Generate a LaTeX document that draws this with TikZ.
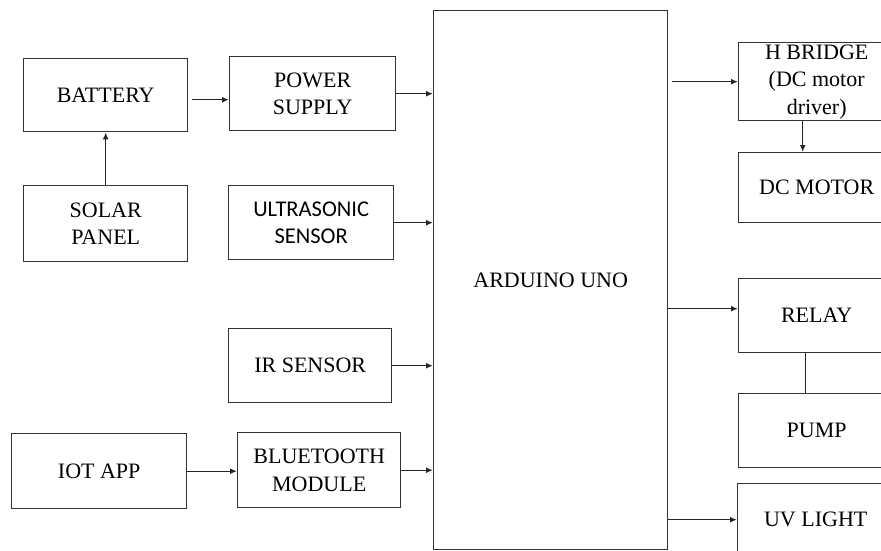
\documentclass[tikz,border=0pt]{standalone}
\usepackage{fontspec}
\setmainfont{Liberation Serif}
\newfontfamily\calibri{Carlito}
\usetikzlibrary{arrows.meta}
\begin{document}
\begin{tikzpicture}[x=1pt, y=-1pt,
    blocco/.style={draw=black!80, line width=1.4pt, inner sep=0pt, anchor=north west,
      align=center, font=\fontsize{22}{27.5}\selectfont},
    freccia/.style={draw=black!85, line width=1.4pt, -{Latex[length=7pt,width=6pt]}},
    linea/.style={draw=black!85, line width=1.4pt}]
    \useasboundingbox (0,0) rectangle (881,551);
    % Blocchi di ingresso
    \node[blocco, minimum width=164pt, minimum height=73pt] (bat) at (23,58) {BATTERY};
    \node[blocco, minimum width=166pt, minimum height=74pt] (pwr) at (229,56) {POWER\\SUPPLY};
    \node[blocco, minimum width=164pt, minimum height=76pt] (sol) at (23,185) {SOLAR\\PANEL};
    \node[blocco, minimum width=165pt, minimum height=74pt, font=\calibri\fontsize{22.5}{27}\selectfont] (ult) at (228,185) {ULTRASONIC\\SENSOR};
    \node[blocco, minimum width=163pt, minimum height=74pt] (ir) at (228,328) {IR SENSOR};
    \node[blocco, minimum width=175pt, minimum height=75pt] (iot) at (11,433) {IOT APP};
    \node[blocco, minimum width=163pt, minimum height=75pt] (bt) at (237,432) {BLUETOOTH\\MODULE};
    % Microcontrollore
    \node[blocco, minimum width=234pt, minimum height=539pt] (ard) at (433,10) {ARDUINO UNO};
    % Blocchi di uscita
    \node[blocco, minimum width=156pt, minimum height=78pt] (hb) at (738,42) {H BRIDGE\\(DC motor\\driver)};
    \node[blocco, minimum width=156pt, minimum height=70pt] (dcm) at (738,152) {DC MOTOR};
    \node[blocco, minimum width=156pt, minimum height=74pt] (rly) at (738,278) {RELAY};
    \node[blocco, minimum width=156pt, minimum height=74pt] (pmp) at (738,393) {PUMP};
    \node[blocco, minimum width=156pt, minimum height=72pt] (uv) at (737,483) {UV LIGHT};
    % Collegamenti a sinistra
    \draw[freccia] (sol.north) -- (bat.south);
    \draw[freccia] ([shift={(4pt,-4.5pt)}]bat.east) -- ([yshift=-4.5pt]bat.east -| pwr.west);
    \draw[freccia] (iot.east) -- (iot.east -| bt.west);
    \foreach \n in {pwr,ult,ir,bt} {
      \draw[freccia] (\n.east) -- (\n.east -| ard.west);
    }
    % Collegamenti a destra
    \draw[freccia] ([xshift=4pt]hb.west -| ard.east) -- (hb.west);
    \draw[freccia] ([xshift=-14pt]hb.south) -- ([xshift=-14pt]dcm.north);
    \draw[freccia] ([yshift=7pt]rly.west -| ard.east) -- ([yshift=7pt]rly.west);
    \draw[linea] ([xshift=-11pt]rly.south) -- ([xshift=-11pt]pmp.north);
    \draw[freccia] (uv.west -| ard.east) -- (uv.west);
\end{tikzpicture}
\end{document}
